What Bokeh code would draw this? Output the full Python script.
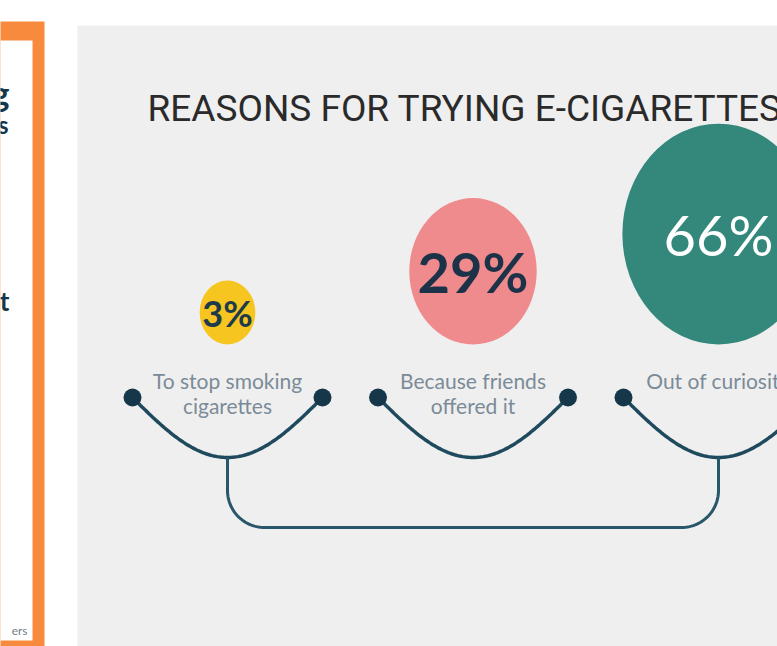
import numpy as np
from bokeh.plotting import figure
from bokeh.models import Range1d
from bokeh.core.properties import value
from bokeh.embed import file_html
from bokeh.resources import INLINE

# ---------------- data ----------------
title = "REASONS FOR TRYING E-CIGARETTES"
reasons = ["To stop smoking\ncigarettes", "Because friends\noffered it", "Out of curiosity"]
shares = [3, 29, 66]
share_labels = ["3%", "29%", "66%"]
side_fragments = ["g", "s", "t", "ers"]

# ---------------- styles ----------------
bubble_colors = ["#f6c51f", "#ef8a8d", "#33877b"]
number_colors = ["#1e3b4c", "#1b3248", "#ffffff"]
number_styles = ["bold", "bold", "normal"]
navy = "#153749"
line_col = "#1f4a5e"
label_col = "#7b8b97"

W, H = 777, 646
p = figure(width=W, height=H, x_range=Range1d(0, W), y_range=Range1d(H, 0),
           output_backend="svg", toolbar_location=None, min_border=0,
           x_axis_location=None, y_axis_location=None)
p.grid.visible = False
p.outline_line_color = None
p.background_fill_color = "white"
p.border_fill_color = "white"

# left orange panel (cropped neighbour)
p.quad(left=[-10], right=[44], top=[21], bottom=[660], fill_color="#f78a3d", line_color=None)
p.quad(left=[-10], right=[32], top=[40], bottom=[640], fill_color="white", line_color=None)
frag_y = [92, 124, 300, 630]
frag_x = [9, 8, 9, 27]
frag_size = ["34px", "24px", "26px", "12px"]
frag_col = [navy, navy, navy, "#6f7f8a"]
frag_w = ["bold", "bold", "bold", "normal"]
for t, fx, fy, fs, fc, fw in zip(side_fragments, frag_x, frag_y, frag_size, frag_col, frag_w):
    p.text(x=[fx], y=[fy], text=[t], text_align="right", text_baseline="alphabetic",
           text_font=value("Lato"), text_font_size=fs, text_color=fc, text_font_style=fw)

# grey panel
p.quad(left=[77], right=[800], top=[25], bottom=[660], fill_color="#efefef", line_color=None)

# title
p.text(x=[147], y=[108], text=[title], text_font=value("Roboto"),
       text_font_size="37px", text_color="#2a2a2a", text_baseline="alphabetic", text_align="left")

# group positions
n = len(shares)
cx = [227 + 245.5 * i for i in range(n)]
arc_y, half_w, sag = 397, 95, 60

# connectors
for c in cx:
    dx = np.linspace(-half_w, half_w, 120)
    yy = arc_y + sag * np.cos(np.pi / 2 * dx / half_w)
    p.line(c + dx, yy, line_width=3.5, line_color=line_col)
p.scatter(x=[c + s for c in cx for s in (-half_w, half_w)], y=[arc_y] * (2 * n),
          size=18, fill_color=navy, line_color=None)

# bracket joining first and last group
r = 37
x0, x2 = cx[0], cx[-1]
ybot = 527
bx, by = [x0, x0], [arc_y + sag, ybot - r]
t = np.linspace(np.pi, np.pi / 2, 30)
bx += list(x0 + r + r * np.cos(t)); by += list(ybot - r + r * np.sin(t))
t = np.linspace(np.pi / 2, 0, 30)
bx += list(x2 - r + r * np.cos(t)); by += list(ybot - r + r * np.sin(t))
bx += [x2, x2]; by += [ybot - r, arc_y + sag]
p.line(bx, by, line_width=3, line_color="#28566a")

# bubbles (area ~ share)
base = 344
for i, v in enumerate(shares):
    ry = max(32.0, 13.6 * np.sqrt(v))
    rx = 0.87 * ry
    cy = base - ry
    p.ellipse(x=[cx[i]], y=[cy], width=[2 * rx], height=[2 * ry],
              fill_color=bubble_colors[i], line_color=None)
    fs = "36px" if v < 10 else "56px"
    p.text(x=[cx[i]], y=[cy], text=[share_labels[i]], text_align="center", text_baseline="middle",
           text_font=value("Lato"), text_font_size=fs, text_color=number_colors[i],
           text_font_style=number_styles[i])

# reason labels
p.text(x=cx, y=[367] * n, text=reasons, text_align="center", text_baseline="top",
       text_font=value("Lato"), text_font_size="21px", text_color=label_col,
       text_line_height=1.0)

open("out.html", "w").write(file_html(p, INLINE))
